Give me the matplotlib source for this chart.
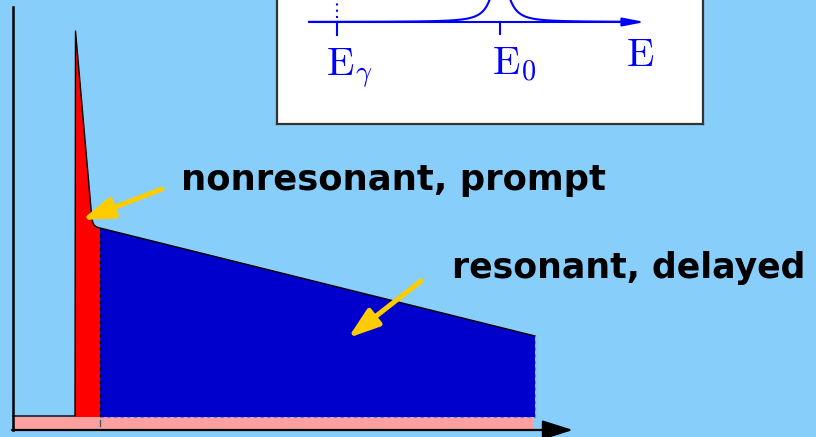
import matplotlib.pyplot as plt
import numpy as np

plt.rcParams['mathtext.fontset'] = 'cm'

bg_col = '#87CEFA'

# time spectrum (time in arb. units, counts in arb. units)
t_axis = -2.48
t_end = 18.4
background = 13
t_prompt = [0.0, 0.02, 0.68, 0.76, 0.86, 1.0]
c_prompt = [14, 399, 210, 205, 203, 202]
t_delayed = [1.0, t_end]
c_delayed = [202, 94]
t_gate = 1.0

# resonance line shape in the inset (energy in arb. units)
E_gamma = 60
E_0 = 223
E_width = 8.1
E_height = 59
E_range = [32, 368]

fig = plt.figure(figsize=(8.16, 4.37), dpi=100, facecolor=bg_col)
ax = fig.add_axes([0, 0, 1, 1])
ax.set_xlim(-3, 29.64)
ax.set_ylim(-7, 430)
ax.axis('off')

# background band
ax.fill_between([t_axis, t_end - 0.08], 0, background, color='#FFA0A0', lw=0, zorder=1)

# prompt part (red) and delayed part (blue)
ax.fill(t_prompt + [t_prompt[-1], t_prompt[0]], c_prompt + [background, background],
        color='#FF0000', lw=0, zorder=2)
ax.fill(t_delayed + [t_delayed[-1], t_delayed[0]], c_delayed + [background, background],
        color='#0000CC', lw=0, zorder=2)

# outline of the spectrum
t_line = [t_axis, 0.0] + t_prompt[1:] + t_delayed[1:]
c_line = [14, 14] + c_prompt[1:] + c_delayed[1:]
ax.plot(t_line, c_line, color='black', lw=1.0, zorder=3)
ax.plot([t_gate, t_gate], [background, c_delayed[0]], color='black', lw=0.8,
        dashes=(3, 3), zorder=3)
ax.plot([t_end, t_end], [background, c_delayed[1]], color='#5f7fe8', lw=0.8,
        dashes=(3, 3), zorder=3)
ax.plot([t_gate, t_end], [background, background], color='#5f7fe8', lw=0.8,
        dashes=(3, 3), zorder=3)
ax.plot([t_gate, t_gate], [4, 10], color='#555555', lw=1.0, zorder=3)

# axes with arrow
ax.plot([t_axis, t_axis], [0, 423], color='black', lw=1.8, zorder=4)
ax.annotate('', xy=(19.92, 0), xytext=(t_axis - 0.04, 0),
            arrowprops=dict(arrowstyle='-|>,head_length=1.9,head_width=0.6',
                            mutation_scale=10, lw=1.6, color='black',
                            shrinkA=0, shrinkB=0), zorder=4)

# labels with yellow arrows
arrow_style = dict(arrowstyle='-|>,head_length=1.87,head_width=0.63', mutation_scale=10,
                   lw=3.6, color='#FFCC00', shrinkA=0, shrinkB=0)
ax.annotate('', xy=(0.27, 210), xytext=(3.48, 241), arrowprops=arrow_style, zorder=5)
ax.annotate('', xy=(10.92, 92), xytext=(13.84, 149), arrowprops=arrow_style, zorder=5)

ax.text(4.24, 240, 'nonresonant, prompt', fontsize=25.5, fontweight='bold',
        family='DejaVu Sans', ha='left', va='baseline', color='black')
ax.text(15.08, 152, 'resonant, delayed', fontsize=25, fontweight='bold',
        family='DejaVu Sans', ha='left', va='baseline', color='black')

# inset: resonance in energy
ins = fig.add_axes([277 / 816, 313 / 437, 426 / 816, 134 / 437], zorder=10)
ins.set_xlim(0, 426)
ins.set_ylim(-102, 32)
ins.set_facecolor('white')
ins.set_xticks([])
ins.set_yticks([])
for s in ins.spines.values():
    s.set_color('#333333')
    s.set_linewidth(1.6)

blue = '#0000FF'
E = np.linspace(E_range[0], E_range[1] - 20, 800)
ins.plot(E, E_height * E_width**2 / ((E - E_0)**2 + E_width**2), color=blue, lw=1.5)
ins.annotate('', xy=(E_range[1], 0), xytext=(E_range[0], 0),
             arrowprops=dict(arrowstyle='-|>,head_length=1.3,head_width=0.25',
                             mutation_scale=10, lw=1.5, color=blue,
                             shrinkA=0, shrinkB=0))
ins.plot([E_gamma, E_gamma], [0, -13], color=blue, lw=1.5)
ins.plot([E_0, E_0], [0, -12], color=blue, lw=1.5)
ins.plot([E_gamma, E_gamma], [4, 32], color=blue, lw=1.5, ls=(0, (1, 2)))

ins.text(E_gamma - 11, -53, r'$\mathrm{E}_\gamma$', fontsize=29, color=blue,
         ha='left', va='baseline')
ins.text(E_0 - 8, -53, r'$\mathrm{E}_0$', fontsize=29, color=blue,
         ha='left', va='baseline')
ins.text(349, -44, r'$\mathrm{E}$', fontsize=29, color=blue,
         ha='left', va='baseline')

fig.savefig('out.png', dpi=100, facecolor=bg_col)
